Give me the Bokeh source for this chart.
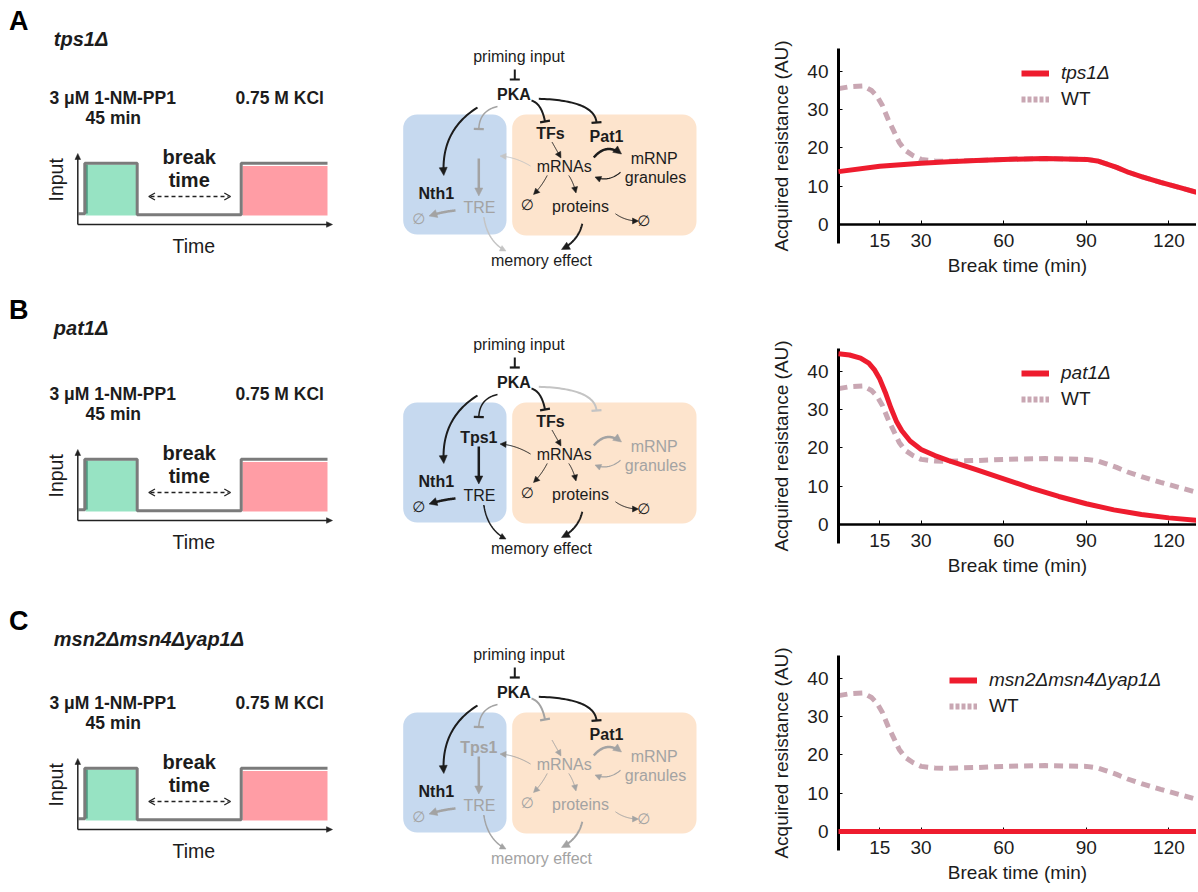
import numpy as np
from bokeh.plotting import figure
from bokeh.layouts import row, column
from bokeh.models import Legend, LegendItem, LinearAxis, FixedTicker, BoxAnnotation, Range1d
from bokeh.core.properties import value
from bokeh.embed import file_html
from bokeh.resources import INLINE

FONT = "Liberation Sans"
INK = "#1c1c1c"
GREY = "#a3a3a3"
LGREY = "#c4c4c4"
RED = "#EE1C2E"
WT_COLOR = "#C9A7B3"

# ---------------- chart data ----------------
wt_time = [0, 4, 9, 12, 14, 16, 18, 20, 22, 24, 27, 30, 35, 40, 50, 60, 75, 90, 94, 97, 101, 105, 110, 117, 124, 130]
wt_resist = [35.5, 36.0, 36.2, 35.0, 33.5, 31.0, 27.5, 24.5, 21.5, 19.5, 18.0, 17.0, 16.6, 16.5, 16.7, 17.0, 17.2, 17.0, 16.6, 15.9, 14.9, 13.7, 12.5, 11.0, 9.6, 8.4]

tps1_time = [0, 15, 30, 40, 50, 60, 75, 90, 94, 97, 101, 105, 110, 117, 124, 130]
tps1_resist = [13.8, 15.2, 16.0, 16.4, 16.7, 17.0, 17.2, 17.0, 16.6, 15.9, 14.9, 13.7, 12.5, 11.0, 9.6, 8.4]

pat1_time = [0, 4, 8, 11, 13, 15, 17, 19, 21, 23, 26, 30, 35, 40, 50, 60, 70, 80, 90, 100, 110, 120, 130]
pat1_resist = [44.6, 44.3, 43.5, 42.2, 40.5, 38.0, 34.5, 30.5, 27.0, 24.5, 21.8, 19.6, 18.0, 16.7, 14.3, 11.9, 9.5, 7.3, 5.4, 3.8, 2.6, 1.7, 1.1]

msn_time = [0, 130]
msn_resist = [0, 0]

x_ticks = [15, 30, 60, 90, 120]
y_ticks = [0, 10, 20, 30, 40]
genotypes = ["tps1Δ", "pat1Δ", "msn2Δmsn4Δyap1Δ"]
panel_letters = ["A", "B", "C"]


def make_chart(red_t, red_v, label, height, top, bottom, leg_x):
    p = figure(width=428, height=height, x_range=Range1d(0, 130), y_range=Range1d(-5, 46),
               output_backend="svg", toolbar_location=None, tools="", title=None,
               min_border_left=66, min_border_right=0, min_border_top=top, min_border_bottom=bottom)
    p.outline_line_color = None
    p.grid.visible = False
    p.background_fill_color = "white"
    p.border_fill_color = "white"
    p.line(wt_time, wt_resist, line_color=WT_COLOR, line_width=5, line_dash="9 6")
    rd = p.line(red_t, red_v, line_color=RED, line_width=5)
    rd.level = "overlay"
    # legend proxies (kept outside the visible ranges)
    rl = p.line([-60, -50], [-60, -60], line_color=RED, line_width=6)
    wl = p.line([-60, -50], [-60, -60], line_color=WT_COLOR, line_width=6, line_dash="4 2")

    ya = p.yaxis[0]
    ya.ticker = FixedTicker(ticks=y_ticks)
    ya.axis_line_width = 3
    ya.axis_line_color = "black"
    ya.major_tick_in = 4
    ya.major_tick_out = 0
    ya.major_tick_line_width = 1
    ya.major_tick_line_color = "black"
    ya.minor_tick_in = 0
    ya.minor_tick_out = 0
    ya.major_label_standoff = 10
    ya.major_label_text_font = FONT
    ya.major_label_text_font_size = "19px"
    ya.major_label_text_color = INK
    ya.axis_label = "Acquired resistance (AU)"
    ya.axis_label_text_font = FONT
    ya.axis_label_text_font_size = "19px"
    ya.axis_label_text_font_style = "normal"
    ya.axis_label_text_color = INK
    ya.axis_label_standoff = 12

    # labels of the x axis (drawn in the panel below the frame)
    xa = p.xaxis[0]
    xa.ticker = FixedTicker(ticks=x_ticks)
    xa.axis_line_color = None
    xa.major_tick_line_color = None
    xa.major_tick_in = 0
    xa.major_tick_out = 0
    xa.minor_tick_in = 0
    xa.minor_tick_out = 0
    xa.major_label_standoff = -10
    xa.major_label_text_font = FONT
    xa.major_label_text_font_size = "19px"
    xa.major_label_text_color = INK
    xa.axis_label = "Break time (min)"
    xa.axis_label_text_font = FONT
    xa.axis_label_text_font_size = "19px"
    xa.axis_label_text_font_style = "normal"
    xa.axis_label_text_color = INK
    xa.axis_label_standoff = 5

    # x axis line and ticks at y = 0
    xa2 = LinearAxis(fixed_location=0, ticker=FixedTicker(ticks=x_ticks),
                     axis_line_width=2.5, axis_line_color="black",
                     major_tick_in=4, major_tick_out=0, major_tick_line_width=1,
                     major_tick_line_color="black", minor_tick_in=0, minor_tick_out=0,
                     major_label_text_font_size="1px", major_label_text_alpha=0,
                     major_label_standoff=0)
    p.add_layout(xa2, "below")

    common = dict(label_text_font=FONT, label_text_font_size="19px", label_text_color=INK,
                  glyph_width=28, glyph_height=20, label_height=20, label_standoff=12,
                  padding=0, margin=0, spacing=0, background_fill_alpha=0, border_line_alpha=0)
    leg1 = Legend(items=[LegendItem(label=label, renderers=[rl])], location=(leg_x, 159),
                  label_text_font_style="italic", **common)
    leg2 = Legend(items=[LegendItem(label="WT", renderers=[wl])], location=(leg_x, 133),
                  label_text_font_style="normal", **common)
    p.add_layout(leg1, "center")
    p.add_layout(leg2, "center")
    return p


chart_a = make_chart(tps1_time, tps1_resist, genotypes[0], 300, 48, 57, 183)
chart_b = make_chart(pat1_time, pat1_resist, genotypes[1], 309, 48, 66, 183)
chart_c = make_chart(msn_time, msn_resist, genotypes[2], 281, 46, 40, 111)

# ---------------- schematic figure ----------------
d = figure(width=768, height=890, x_range=Range1d(0, 768), y_range=Range1d(890, 0),
           output_backend="svg", toolbar_location=None, tools="", title=None,
           min_border=0, x_axis_type=None, y_axis_type=None)
d.outline_line_color = None
d.grid.visible = False
d.background_fill_color = "white"
d.border_fill_color = "white"


def txt(x, y, s, size=16, style="normal", color=INK, align="center", angle=0.0, font=FONT):
    d.text(x=[x], y=[y], text=[s], text_font=value(font), text_font_size=value(f"{size}px"),
           text_font_style=value(style), text_color=color, text_align=value(align),
           text_baseline=value("middle"), angle=angle)


def head_tri(tip, ux, uy, color, hl, hw):
    bx, by = tip[0] - hl * ux, tip[1] - hl * uy
    px, py = -uy, ux
    d.patch([tip[0], bx + hw * px, bx - hw * px], [tip[1], by + hw * py, by - hw * py],
            fill_color=color, line_color=color, line_width=0.5)


def curve(p0, c, p1, color, w, head=None, dy=0.0):
    if color is None:
        return
    p0 = (p0[0], p0[1] + dy)
    p1 = (p1[0], p1[1] + dy)
    if c is None:
        c = ((p0[0] + p1[0]) / 2, (p0[1] + p1[1]) / 2)
    else:
        c = (c[0], c[1] + dy)
    t = np.linspace(0, 1, 40)
    xs = (1 - t) ** 2 * p0[0] + 2 * t * (1 - t) * c[0] + t ** 2 * p1[0]
    ys = (1 - t) ** 2 * p0[1] + 2 * t * (1 - t) * c[1] + t ** 2 * p1[1]
    ddx, ddy = p1[0] - c[0], p1[1] - c[1]
    n = np.hypot(ddx, ddy)
    ux, uy = ddx / n, ddy / n
    if head == "arrow":
        hl, hw = (8.0, 4.0) if w >= 2 else (6.0, 3.0)
        keep = np.hypot(xs - p1[0], ys - p1[1]) > hl * 0.6
        xs2 = np.append(xs[keep], p1[0] - hl * 0.6 * ux)
        ys2 = np.append(ys[keep], p1[1] - hl * 0.6 * uy)
        d.line(xs2, ys2, line_color=color, line_width=w)
        head_tri(p1, ux, uy, color, hl, hw)
    else:
        d.line(xs, ys, line_color=color, line_width=w)
        if head == "bar":
            px, py = -uy, ux
            bw = 5.0
            d.line([p1[0] + bw * px, p1[0] - bw * px], [p1[1] + bw * py, p1[1] - bw * py],
                   line_color=color, line_width=2.2)


# ---- left: stimulation protocol schematic ----
def protocol(dyh, dy, letter, geno):
    txt(18.3, 20 + dyh, letter, size=27, style="bold", color="black")
    txt(53.3, 38 + dyh, geno, size=20, style="bold italic", align="left", color=INK)
    txt(112.2, 97.5 + dy, "3 μM 1-NM-PP1", size=17.5, style="bold")
    txt(112.8, 117.5 + dy, "45 min", size=17.5, style="bold")
    txt(279.2, 97.5 + dy, "0.75 M KCl", size=17.5, style="bold")
    d.quad(left=[85], right=[136.5], top=[164 + dy], bottom=[215 + dy],
           fill_color="#97E3C3", line_color=None)
    d.quad(left=[242], right=[327], top=[165.5 + dy], bottom=[215 + dy],
           fill_color="#FF9DA5", line_color=None)
    d.line([85.8, 85.8], [164 + dy, 213 + dy], line_color="#4E9F84", line_width=3)
    sx = [78, 84.3, 84.3, 136.7, 136.7, 240.7, 240.7, 327]
    sy = [213.3, 213.3, 162.7, 162.7, 214.3, 214.3, 162.7, 162.7]
    d.line(sx, [v + dy for v in sy], line_color="#7b7b7b", line_width=3)
    # axes
    d.line([77.3, 77.3], [224 + dy, 158 + dy], line_color="#222222", line_width=1.5)
    head_tri((77.3, 153 + dy), 0.0, -1.0, "#222222", 6, 2.8)
    d.line([77.3, 327], [224 + dy, 224 + dy], line_color="#222222", line_width=1.5)
    head_tri((332, 224 + dy), 1.0, 0.0, "#222222", 6, 2.8)
    txt(55, 179.3 + dy, "Input", size=19.5, angle=np.pi / 2)
    txt(193.3, 245 + dy, "Time", size=19.5)
    txt(188.7, 156.5 + dy, "break", size=20, style="bold")
    txt(188.7, 179.3 + dy, "time", size=20, style="bold")
    yb = 196 + dy
    d.line([150, 228], [yb, yb], line_color="#222222", line_width=1.3, line_dash="4 3")
    d.line([154.5, 148.3, 154.5], [yb - 3.5, yb, yb + 3.5], line_color="#222222", line_width=1.3)
    d.line([223.8, 230, 223.8], [yb - 3.5, yb, yb + 3.5], line_color="#222222", line_width=1.3)


for i in range(3):
    protocol([0, 289, 600][i], [0, 296, 605][i], panel_letters[i], genotypes[i])

# ---- middle: signalling network ----
ARROWS = {
    "a": ((514.3, 69), None, (514.3, 79), 2.0, "bar"),
    "b": ((477, 107), (440, 130), (443.3, 175), 2.0, "arrow"),
    "c": ((497, 106), (479, 110), (478.3, 128.5), 1.5, "bar"),
    "d": ((478.3, 158), None, (478.3, 195.5), 2.5, "arrow"),
    "e": ((455, 210), (443, 211), (428.5, 215.5), 2.5, "arrow"),
    "f": ((483.3, 216.5), (487, 241), (505.5, 250.5), 1.5, "arrow"),
    "g": ((530, 165.5), (515, 156.5), (499.5, 155.5), 1.0, "arrow"),
    "h": ((531, 100), (541, 103), (544.5, 121), 2.0, "bar"),
    "i": ((538.3, 98.3), (594, 100), (596, 122), 2.0, "bar"),
    "j": ((551.5, 141.5), None, (560.5, 157.5), 1.0, "arrow"),
    "k": ((593.3, 157), (606, 142), (621, 153.5), 2.5, "arrow"),
    "l": ((620, 171.7), (608, 182), (594.5, 176.5), 1.2, "arrow"),
    "m": ((546.7, 175), (541, 186), (533, 194), 1.0, "arrow"),
    "n": ((568.3, 175), (573, 182), (575.5, 192.5), 1.0, "arrow"),
    "o": ((615, 213.3), (625, 220.5), (638, 220.5), 1.0, "arrow"),
    "p": ((581.7, 223.3), (578, 240), (561, 249), 2.0, "arrow"),
}

NODES = {
    "prime": ("priming input", 518.5, 56, "normal", FONT, 16),
    "PKA": ("PKA", 513.5, 94, "bold", FONT, 16),
    "TFs": ("TFs", 550, 133, "bold", FONT, 16),
    "Pat1": ("Pat1", 606, 136, "bold", FONT, 16),
    "Tps1": ("Tps1", 478.3, 148.7, "bold", FONT, 16),
    "mRNAs": ("mRNAs", 563.7, 166, "normal", FONT, 16),
    "mRNP": ("mRNP", 653.7, 157.5, "normal", FONT, 16),
    "gran": ("granules", 655, 177, "normal", FONT, 16),
    "Nth1": ("Nth1", 435.8, 193, "bold", FONT, 16),
    "TRE": ("TRE", 479, 207, "normal", FONT, 16),
    "e1": ("∅", 418.3, 218.3, "normal", "DejaVu Sans", 15),
    "e2": ("∅", 526.7, 204, "normal", "DejaVu Sans", 15),
    "proteins": ("proteins", 580, 206, "normal", FONT, 16),
    "e3": ("∅", 643.3, 220, "normal", "DejaVu Sans", 15),
    "memory": ("memory effect", 541, 259.5, "normal", FONT, 16),
}

K, G, L = INK, GREY, LGREY
NODE_STATE = [
    dict(prime=K, PKA=K, TFs=K, Pat1=K, Tps1=None, mRNAs=K, mRNP=K, gran=K, Nth1=K, TRE=G,
         e1=G, e2=K, proteins=K, e3=K, memory=K),
    dict(prime=K, PKA=K, TFs=K, Pat1=None, Tps1=K, mRNAs=K, mRNP=G, gran=G, Nth1=K, TRE=K,
         e1=K, e2=K, proteins=K, e3=K, memory=K),
    dict(prime=K, PKA=K, TFs=None, Pat1=K, Tps1=G, mRNAs=G, mRNP=G, gran=G, Nth1=K, TRE=G,
         e1=G, e2=G, proteins=G, e3=G, memory=G),
]
ARROW_STATE = [
    dict(a=K, b=K, c=G, d=G, e=G, f=L, g=L, h=K, i=K, j=K, k=K, l=K, m=K, n=K, o=K, p=K),
    dict(a=K, b=K, c=K, d=K, e=K, f=K, g=K, h=K, i=L, j=K, k=G, l=G, m=K, n=K, o=K, p=K),
    dict(a=K, b=K, c=G, d=G, e=G, f=G, g=G, h=G, i=K, j=G, k=G, l=G, m=G, n=G, o=G, p=G),
]


def network(dy, nstate, astate):
    d.add_layout(BoxAnnotation(left=402.7, right=506, top=114 + dy, bottom=234 + dy,
                               fill_color="#C6D9EF", fill_alpha=1.0, line_color=None,
                               border_radius=14, level="underlay"))
    d.add_layout(BoxAnnotation(left=511.7, right=696, top=114 + dy, bottom=235 + dy,
                               fill_color="#FDE4CD", fill_alpha=1.0, line_color=None,
                               border_radius=14, level="underlay"))
    for key, (p0, c, p1, w, head) in ARROWS.items():
        curve(p0, c, p1, astate[key], w, head, dy=dy)
    for key, (s, x, y, style, font, size) in NODES.items():
        col = nstate[key]
        if col is None:
            continue
        txt(x, y + dy, s, size=size, style=style, color=col, font=font)


for i, off in enumerate([0, 288, 598]):
    network(off, NODE_STATE[i], ARROW_STATE[i])

layout = row(d, column(chart_a, chart_b, chart_c, spacing=0), spacing=0)
open("out.html", "w").write(file_html(layout, INLINE))
